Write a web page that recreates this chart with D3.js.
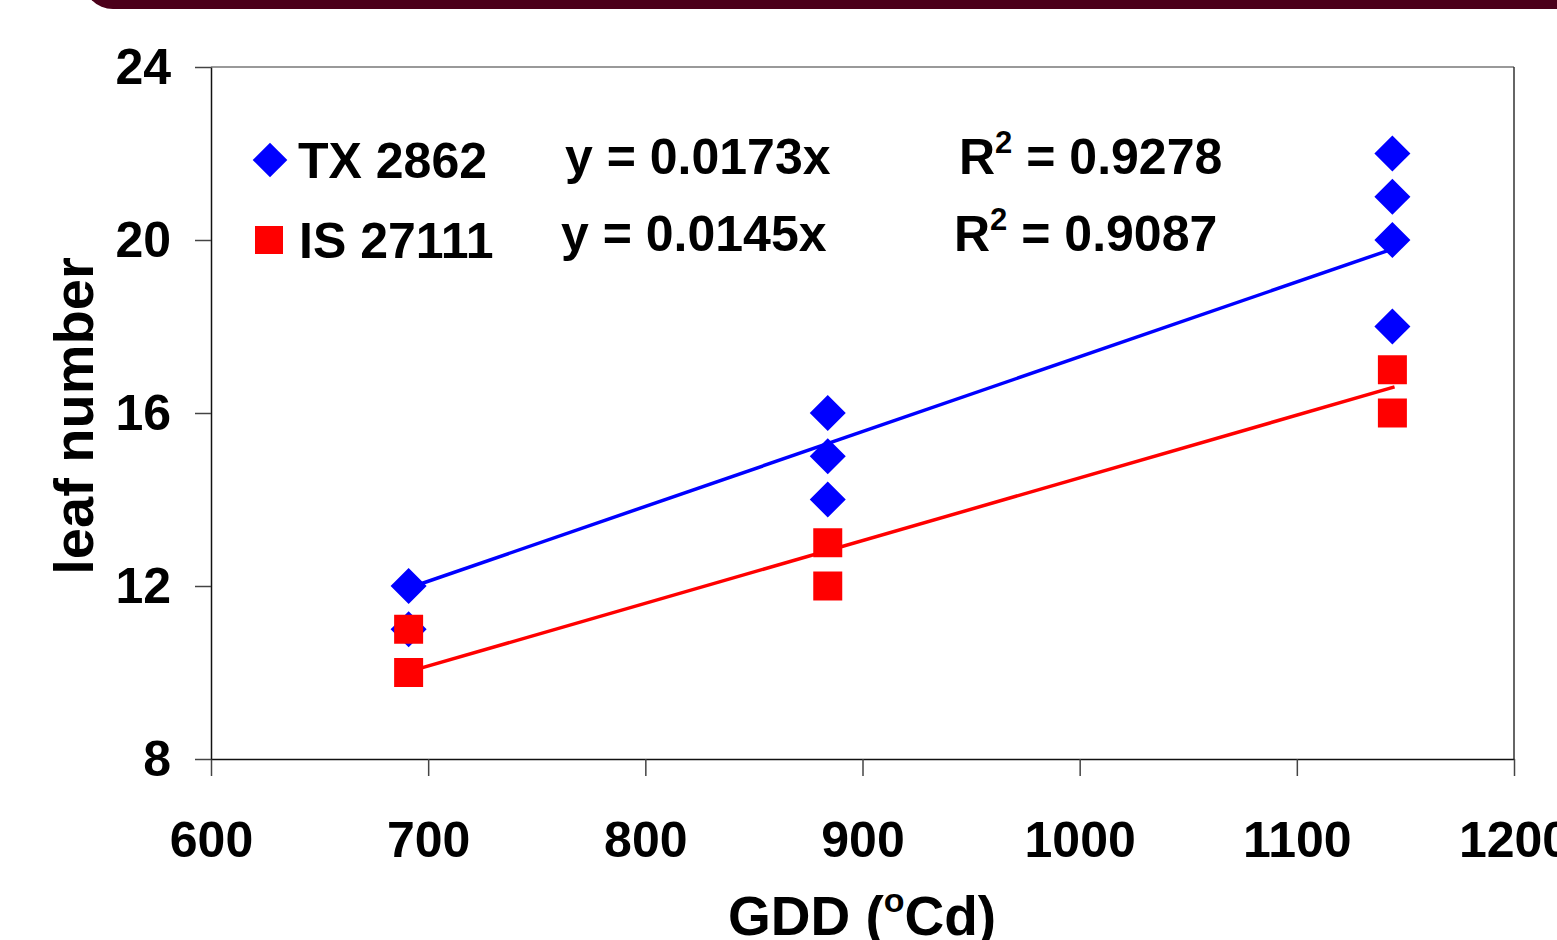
<!DOCTYPE html>
<html>
<head>
<meta charset="utf-8">
<script src="https://cdn.jsdelivr.net/npm/d3@7"></script>
<style>
  body { margin: 0; background: #fff; overflow: hidden; }
  text { font-family: "Liberation Sans", Arial, sans-serif; font-weight: bold; fill: #000; }
</style>
</head>
<body>
<svg id="chart" width="1557" height="940"></svg>
<script>
// GDD values (x) and leaf numbers for each cultivar
const txGdd = [691, 691, 884, 884, 884, 1144, 1144, 1144, 1144]
const txLeaf = [12, 11, 16, 15, 14, 22, 21, 20, 18]
const isGdd = [691, 691, 884, 884, 1144, 1144]
const isLeaf = [11, 10, 13, 12, 17, 16]
const txSlope = 0.0173
const isSlope = 0.0145
const trendRange = [691, 1145]
const xTicks = [600, 700, 800, 900, 1000, 1100, 1200]
const yTicks = [8, 12, 16, 20, 24]

const svg = d3.select('#chart')
const margin = { left: 211, top: 67, right: 1514, bottom: 759 }

// maroon banner at top
svg.append('rect')
  .attr('x', 83).attr('y', -60)
  .attr('width', 1600).attr('height', 69)
  .attr('rx', 30)
  .attr('fill', '#4b001a')

let x = d3.scaleLinear().domain([600, 1200]).range([margin.left, margin.right])
let y = d3.scaleLinear().domain([8, 24]).range([margin.bottom, margin.top])

// plot frame
svg.append('line')
  .attr('x1', margin.left).attr('x2', margin.right)
  .attr('y1', margin.top).attr('y2', margin.top)
  .attr('stroke', '#777').attr('stroke-width', 1.5)
svg.append('line')
  .attr('x1', margin.right).attr('x2', margin.right)
  .attr('y1', margin.top).attr('y2', margin.bottom)
  .attr('stroke', '#333').attr('stroke-width', 1.5)

let xAxis = svg.append('g')
  .attr('transform', `translate(0,${margin.bottom})`)
  .call(d3.axisBottom(x).tickValues(xTicks).tickFormat(d3.format('d'))
    .tickSize(17).tickSizeOuter(0).tickPadding(45))
xAxis.selectAll('.domain').attr('stroke', '#111').attr('stroke-width', 1.5)
xAxis.selectAll('.tick line').attr('stroke', '#444').attr('stroke-width', 1.5)
xAxis.selectAll('text').attr('font-size', 50).attr('dy', '0.71em')
  .style('font-family', '"Liberation Sans", Arial, sans-serif').style('font-weight', 'bold').attr('fill', '#000')

let yAxis = svg.append('g')
  .attr('transform', `translate(${margin.left},0)`)
  .call(d3.axisLeft(y).tickValues(yTicks).tickSize(16).tickSizeOuter(0).tickPadding(24))
yAxis.selectAll('.domain').attr('stroke', '#111').attr('stroke-width', 1.5)
yAxis.selectAll('.tick line').attr('stroke', '#444').attr('stroke-width', 1.5)
yAxis.selectAll('text').attr('font-size', 50)
  .style('font-family', '"Liberation Sans", Arial, sans-serif').style('font-weight', 'bold').attr('fill', '#000')

// trendlines
const trends = [{ slope: txSlope, color: '#0000ff' }, { slope: isSlope, color: '#ff0000' }]
svg.selectAll('.trend')
  .data(trends)
  .enter().append('line')
  .attr('class', 'trend')
  .attr('x1', x(trendRange[0])).attr('x2', x(trendRange[1]))
  .attr('y1', d => y(d.slope * trendRange[0]))
  .attr('y2', d => y(d.slope * trendRange[1]))
  .attr('stroke', d => d.color)
  .attr('stroke-width', 3.5)

const diamond = d3.symbol().type(d3.symbolSquare).size(650)
const square = d3.symbol().type(d3.symbolSquare).size(29 * 29)

svg.selectAll('.tx')
  .data(txGdd.map((g, i) => [g, txLeaf[i]]))
  .enter().append('path')
  .attr('class', 'tx')
  .attr('d', diamond)
  .attr('transform', d => `translate(${x(d[0])},${y(d[1])}) rotate(45)`)
  .attr('fill', '#0000ff')

svg.selectAll('.is')
  .data(isGdd.map((g, i) => [g, isLeaf[i]]))
  .enter().append('path')
  .attr('class', 'is')
  .attr('d', square)
  .attr('transform', d => `translate(${x(d[0])},${y(d[1])})`)
  .attr('fill', '#ff0000')

// legend
svg.append('path').attr('d', d3.symbol().type(d3.symbolSquare).size(600))
  .attr('transform', 'translate(270,160) rotate(45)').attr('fill', '#0000ff')
svg.append('path').attr('d', d3.symbol().type(d3.symbolSquare).size(28 * 28))
  .attr('transform', 'translate(269,240)').attr('fill', '#ff0000')
svg.append('text').attr('x', 298).attr('y', 178).attr('font-size', 50).text('TX 2862')
svg.append('text').attr('x', 299).attr('y', 258).attr('font-size', 50).text('IS 27111')

svg.append('text').attr('x', 565).attr('y', 174).attr('font-size', 50).text(`y = ${txSlope}x`)
svg.append('text').attr('x', 561).attr('y', 251).attr('font-size', 50).text(`y = ${isSlope}x`)

let r1 = svg.append('text').attr('x', 959).attr('y', 174).attr('font-size', 50)
r1.append('tspan').text('R')
r1.append('tspan').attr('font-size', 31).attr('dy', -21).text('2')
r1.append('tspan').attr('dy', 21).text(' = 0.9278')
let r2 = svg.append('text').attr('x', 954).attr('y', 251).attr('font-size', 50)
r2.append('tspan').text('R')
r2.append('tspan').attr('font-size', 31).attr('dy', -21).text('2')
r2.append('tspan').attr('dy', 21).text(' = 0.9087')

// axis titles
svg.append('text')
  .attr('transform', 'translate(93,416) rotate(-90)')
  .attr('text-anchor', 'middle')
  .attr('font-size', 56)
  .text('leaf number')

let xt = svg.append('text')
  .attr('x', 862).attr('y', 935)
  .attr('text-anchor', 'middle')
  .attr('font-size', 55)
xt.append('tspan').text('GDD (')
xt.append('tspan').attr('font-size', 34).attr('dy', -23).text('o')
xt.append('tspan').attr('dy', 23).text('Cd)')
</script>
</body>
</html>
